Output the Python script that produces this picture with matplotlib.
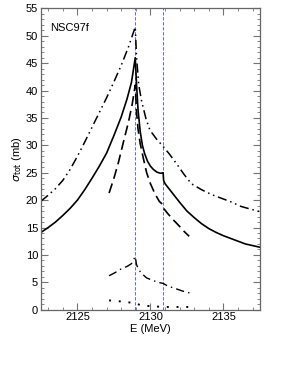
import matplotlib
matplotlib.use("Agg")
import matplotlib.pyplot as plt
from matplotlib.ticker import MultipleLocator

plt.rcParams['font.family'] = ['Liberation Sans', 'DejaVu Sans']

# threshold energies (MeV)
thresholds = [2128.96, 2130.87]

# total cross section (solid)
e_tot = [2122.5, 2123.0, 2123.5, 2124.0, 2124.5, 2125.0, 2125.5, 2126.0,
         2126.5, 2127.0, 2127.5, 2128.0, 2128.4, 2128.7, 2128.96,
         2129.05, 2129.15, 2129.3, 2129.45, 2129.6, 2129.8, 2130.0, 2130.2,
         2130.45, 2130.7, 2130.87, 2130.9, 2131.0, 2131.5, 2132.0, 2132.5,
         2133.0, 2133.5, 2134.0, 2134.5, 2135.0, 2135.5, 2136.0, 2136.5,
         2137.0, 2137.5]
s_tot = [14.1, 15.0, 16.0, 17.2, 18.5, 20.0, 21.9, 24.0,
         26.2, 28.6, 31.8, 35.2, 38.5, 41.5, 46.0,
         41.0, 36.5, 32.5, 30.0, 28.5, 27.1, 26.2, 25.6,
         25.1, 24.9, 25.0, 23.6, 23.0, 21.3, 19.6, 18.0,
         16.8, 15.7, 14.8, 14.1, 13.5, 13.0, 12.5, 12.0,
         11.7, 11.4]

# upper dash-dot-dot curve
e_up = [2122.5, 2123.0, 2123.5, 2124.0, 2124.5, 2125.0, 2125.5, 2126.0,
        2126.5, 2127.0, 2127.5, 2128.0, 2128.5, 2128.96,
        2129.05, 2129.2, 2129.4, 2129.7, 2129.96, 2130.4, 2130.87, 2131.3,
        2131.8, 2132.3, 2132.8, 2133.5, 2134.2, 2135.0, 2135.5, 2136.2,
        2136.8, 2137.5]
s_up = [19.8, 20.9, 22.1, 23.6, 25.6, 28.0, 30.6, 33.3,
        36.0, 38.7, 41.6, 44.6, 48.0, 51.6,
        46.0, 41.0, 38.0, 34.8, 32.8, 31.2, 29.8, 28.4,
        26.6, 24.7, 23.0, 21.9, 21.0, 20.2, 19.7, 18.85,
        18.4, 17.9]

# dashed curve
e_da = [2127.17, 2127.5, 2127.8, 2128.14, 2128.5, 2128.75, 2128.96,
        2129.05, 2129.15, 2129.3, 2129.5, 2129.74, 2130.0, 2130.3, 2130.6,
        2130.87, 2130.9, 2131.2, 2131.6, 2132.0, 2132.3, 2132.65]
s_da = [21.3, 24.0, 26.8, 30.5, 34.3, 37.5, 41.0,
        36.0, 33.0, 30.3, 27.8, 25.0, 23.0, 21.2, 19.8,
        19.1, 18.5, 17.5, 16.3, 15.2, 14.3, 13.4]

# lower dash-dot curve
e_lo = [2127.17, 2127.6, 2128.03, 2128.4, 2128.7, 2128.96, 2129.05,
        2129.2, 2129.4, 2129.74, 2130.2, 2130.6, 2130.87, 2131.2, 2131.67,
        2132.2, 2132.77]
s_lo = [6.2, 6.8, 7.5, 7.9, 8.4, 9.7, 8.2,
        7.3, 6.6, 5.8, 5.3, 4.95, 4.8, 4.3, 3.9,
        3.4, 3.0]

# dotted curve
e_dt = [2127.17, 2128.0, 2128.96, 2129.35, 2130.0, 2130.87, 2131.7, 2132.65]
s_dt = [1.7, 1.5, 1.2, 0.8, 0.65, 0.5, 0.5, 0.5]

fig = plt.figure(figsize=(2.82, 3.65), dpi=100)
ax = fig.add_axes([0.145, 0.1515, 0.777, 0.8255])

for t in thresholds:
    ax.axvline(t, color='#4a4aff', lw=0.6, ls=(0, (4, 2)))

ax.plot(e_tot, s_tot, color='black', lw=1.2)
ax.plot(e_up, s_up, color='black', lw=1.1, ls=(0, (6, 2.5, 1, 2.5, 1, 2.5)))
ax.plot(e_da, s_da, color='black', lw=1.2, ls=(0, (6, 3)))
ax.plot(e_lo, s_lo, color='black', lw=1.0, ls=(0, (6, 3, 1, 3)))
ax.plot(e_dt, s_dt, color='black', lw=1.4, ls=(0, (1, 4)))

ax.set_xlim(2122.5, 2137.5)
ax.set_ylim(0, 55)
ax.xaxis.set_major_locator(MultipleLocator(5))
ax.xaxis.set_minor_locator(MultipleLocator(1))
ax.yaxis.set_major_locator(MultipleLocator(5))
ax.yaxis.set_minor_locator(MultipleLocator(1))
ax.tick_params(which='both', direction='in', top=True, right=True,
               color='0.45', labelsize=8, pad=2)
ax.tick_params(which='major', length=5, width=0.8)
ax.tick_params(which='minor', length=2.5, width=0.6)
for sp in ax.spines.values():
    sp.set_color('0.4')
    sp.set_linewidth(0.9)

ax.set_xlabel('E (MeV)', fontsize=8, labelpad=1)
ax.set_ylabel(r'$\sigma_{\rm tot}$ (mb)', fontsize=8, labelpad=1)
ax.text(0.04, 0.925, 'NSC97f', transform=ax.transAxes, fontsize=8)

fig.savefig('out.png', dpi=100)
